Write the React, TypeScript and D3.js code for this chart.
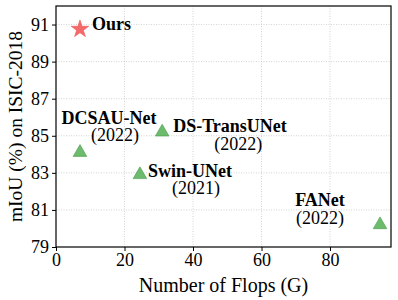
import React, { useRef, useEffect } from "react";
import * as d3 from "d3";

const W = 398;
const H = 300;
const MARGIN = { top: 6, right: 7, bottom: 53, left: 56 };

// methods: name, year, flops (G), mIoU
const names = ["Ours", "DCSAU-Net", "DS-TransUNet", "Swin-UNet", "FANet"];
const years = ["", "(2022)", "(2022)", "(2021)", "(2022)"];
const flops = [7.0, 7.0, 31.0, 24.5, 94.6];
const miou = [90.75, 84.1, 85.2, 82.9, 80.2];

const xTicks = [0, 20, 40, 60, 80];
const yTicks = [79, 81, 83, 85, 87, 89, 91];

// label placement relative to the marker (px): [nameDx, nameDy, nameAnchor, yearDx, yearDy]
const labelPos: [number, number, string, number, number][] = [
  [12, 1, "start", 0, 0],
  [29, -28, "middle", 35, -11],
  [11, 0, "start", 76, 18],
  [8, 2, "start", 56, 19],
  [-60, -19, "middle", -60, -1],
];

const FONT = "'Liberation Serif', 'Times New Roman', serif";

export default function App() {
  const ref = useRef<SVGSVGElement>(null);

  useEffect(() => {
    const svg = d3.select(ref.current);
    svg.selectAll("*").remove();

    const x = d3.scaleLinear().domain([0, 97.8]).range([MARGIN.left, W - MARGIN.right]);
    const y = d3.scaleLinear().domain([79, 92]).range([H - MARGIN.bottom, MARGIN.top]);

    svg.append("rect").attr("width", W).attr("height", H).attr("fill", "#fff");

    // grid
    const grid = svg.append("g").attr("stroke", "#c8c8c8").attr("stroke-width", 0.8).attr("stroke-dasharray", "1,1.5");
    grid
      .selectAll("line.gx")
      .data(xTicks.slice(1))
      .join("line")
      .attr("x1", (d) => x(d))
      .attr("x2", (d) => x(d))
      .attr("y1", y(79))
      .attr("y2", MARGIN.top);
    grid
      .selectAll("line.gy")
      .data(yTicks.slice(1))
      .join("line")
      .attr("x1", MARGIN.left)
      .attr("x2", W - MARGIN.right)
      .attr("y1", (d) => y(d))
      .attr("y2", (d) => y(d));

    // axes
    const xAxis = svg
      .append("g")
      .attr("transform", `translate(0,${H - MARGIN.bottom})`)
      .call(d3.axisBottom(x).tickValues(xTicks).tickSize(4).tickPadding(2).tickSizeOuter(0));
    const yAxis = svg
      .append("g")
      .attr("transform", `translate(${MARGIN.left},0)`)
      .call(d3.axisLeft(y).tickValues(yTicks).tickSize(4).tickPadding(3).tickSizeOuter(0));
    [xAxis, yAxis].forEach((a) => {
      a.select(".domain").remove();
      a.selectAll("line").attr("stroke", "#000").attr("stroke-width", 1);
      a.selectAll("text").attr("font-family", FONT).attr("font-size", 18).attr("fill", "#000");
    });

    // frame
    svg
      .append("rect")
      .attr("x", MARGIN.left)
      .attr("y", MARGIN.top)
      .attr("width", W - MARGIN.left - MARGIN.right)
      .attr("height", H - MARGIN.top - MARGIN.bottom)
      .attr("fill", "none")
      .attr("stroke", "#000")
      .attr("stroke-width", 1.2);

    // axis titles
    svg
      .append("text")
      .attr("x", (MARGIN.left + W - MARGIN.right) / 2)
      .attr("y", 292)
      .attr("text-anchor", "middle")
      .attr("font-family", FONT)
      .attr("font-size", 20)
      .text("Number of Flops (G)");
    svg
      .append("text")
      .attr("transform", `translate(22,${(MARGIN.top + H - MARGIN.bottom) / 2}) rotate(-90)`)
      .attr("text-anchor", "middle")
      .attr("font-family", FONT)
      .attr("font-size", 19.5)
      .text("mIoU (%) on ISIC-2018");

    // markers
    const idx = d3.range(names.length);
    svg
      .selectAll("path.mark")
      .data(idx)
      .join("path")
      .attr("transform", (i) => `translate(${x(flops[i])},${y(miou[i])})`)
      .attr("d", (i) =>
        i === 0
          ? d3.symbol(d3.symbolStar, 95)()
          : d3.symbol(d3.symbolTriangle, 80)()
      )
      .attr("fill", (i) => (i === 0 ? "#f46a6a" : "#6dbb6d"))
      .attr("stroke", (i) => (i === 0 ? "#e55" : "#4a9a4a"))
      .attr("stroke-width", 0.6);

    // labels
    const lab = svg.selectAll("g.lab").data(idx).join("g").attr("font-family", FONT).attr("font-size", 18);
    lab
      .append("text")
      .attr("x", (i) => x(flops[i]) + labelPos[i][0])
      .attr("y", (i) => y(miou[i]) + labelPos[i][1])
      .attr("text-anchor", (i) => labelPos[i][2])
      .attr("font-weight", "bold")
      .text((i) => names[i]);
    lab
      .filter((i) => years[i] !== "")
      .append("text")
      .attr("x", (i) => x(flops[i]) + labelPos[i][3])
      .attr("y", (i) => y(miou[i]) + labelPos[i][4])
      .attr("text-anchor", "middle")
      .text((i) => years[i]);
  }, []);

  return (
    <svg
      ref={ref}
      width={W}
      height={H}
      style={{ position: "absolute", left: 0, top: 0 }}
    />
  );
}
